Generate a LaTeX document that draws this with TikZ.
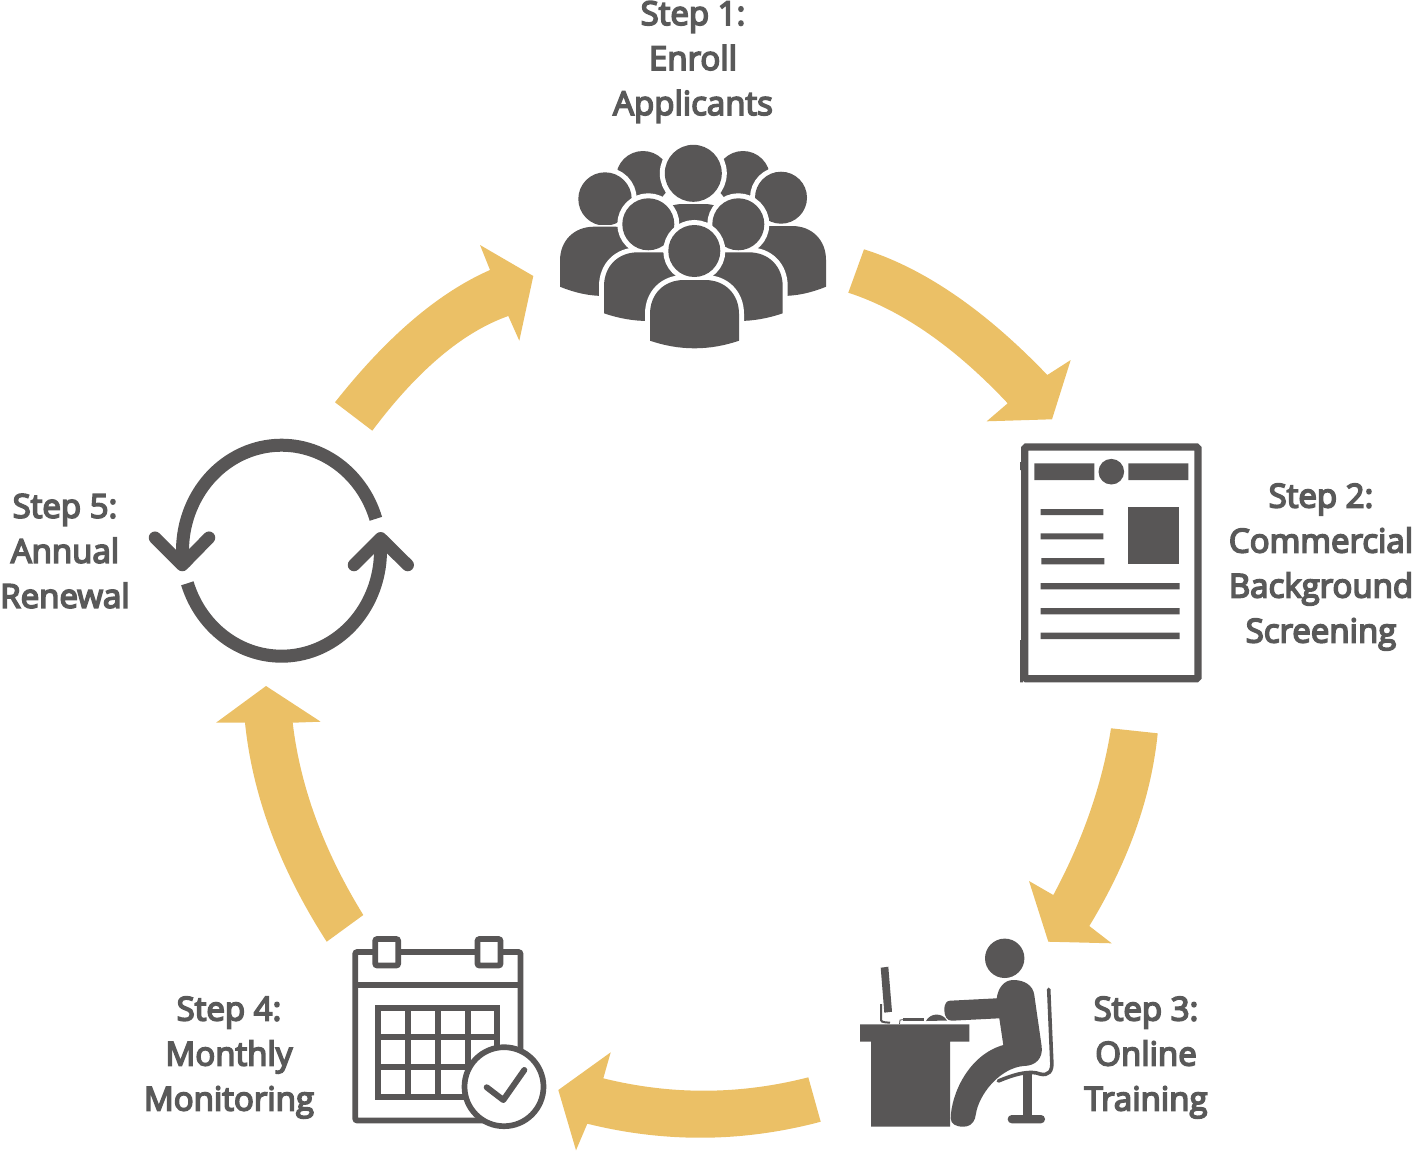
\documentclass[tikz,border=0pt]{standalone}
\usepackage{fontspec}
\setmainfont{Open Sans}
\newfontface\labelface{Open Sans}[FakeBold=5]
\definecolor{icongrey}{HTML}{585656}
\definecolor{textgrey}{HTML}{595959}
\definecolor{arrowgold}{HTML}{EBC066}
\tikzset{
  x=1pt,y=-1pt,
  steplabel/.style={font=\fontsize{33}{45}\selectfont\labelface,text=textgrey,align=center,inner sep=0pt,anchor=center},
  blockarrow/.style={fill=arrowgold},
  solidicon/.style={fill=icongrey},
  thinicon/.style={draw=icongrey,line width=5.7},
  halo/.style={draw=white,fill=white,line width=10},
  thinhalo/.style={draw=white,fill=white,line width=3},
}
\newcommand\crowdhead[3]{%
  \path[halo] (#1,#2) circle[radius=#3];
  \path[solidicon] (#1,#2) circle[radius=#3];}
% head x, head y, head radius, then body left, right, top, side bottom, centre bottom
\newcommand\crowdperson[8]{%
  \def\crowdshape{(#4,#7) -- (#4,#6+34) .. controls (#4,#6+14) and (#4+14,#6) .. (#4+34,#6) -- (#5-34,#6) .. controls (#5-14,#6) and (#5,#6+14) .. (#5,#6+34) -- (#5,#7) .. controls ({#5-(#5-#4)/3},{#7+4/3*(#8-#7)}) and ({#4+(#5-#4)/3},{#7+4/3*(#8-#7)}) .. (#4,#7) -- cycle}%
  \path[halo] \crowdshape;
  \crowdhead{#1}{#2}{#3}
  \path[thinhalo] \crowdshape;
  \path[solidicon] \crowdshape;}
\begin{document}
\begin{tikzpicture}
\useasboundingbox (0,0) rectangle (1412,1151);
% block arrows
\path[blockarrow] (864,249.3) .. controls (924.2,268.3) and (985.3,310.2) .. (1047.3,375) -- (1070.7,360) -- (1052,419.3) -- (986.7,421.3) -- (1007.7,403.3) .. controls (954.6,346.8) and (901.4,310) .. (848.3,292.7) -- cycle;
\path[blockarrow] (1157.7,733.3) .. controls (1151.2,797.5) and (1128.4,861.7) .. (1089.3,926) -- (1111.7,943.3) -- (1048.3,941.7) -- (1029,881) -- (1053.3,895) .. controls (1083.1,839.4) and (1102.3,783.8) .. (1111,728.3) -- cycle;
\path[blockarrow] (820.7,1121.7) .. controls (742.9,1142.4) and (665.1,1143) .. (587.3,1123.7) -- (576,1150.3) -- (558.3,1090) -- (610.7,1052.3) -- (603.3,1078.3) .. controls (671.6,1095.2) and (740,1094.8) .. (808.3,1077.3) -- cycle;
\path[blockarrow] (326.7,941.7) .. controls (279.7,868.7) and (252.5,795.7) .. (245,722.7) -- (216,722.7) -- (266,686) -- (320.7,721.7) -- (292.7,722.7) .. controls (300.2,786.8) and (323.8,850.9) .. (363.3,915) -- cycle;
\path[blockarrow] (335,402.3) .. controls (386.7,336.8) and (438.3,292.7) .. (490,270) -- (480,245) -- (533.3,276) -- (519.3,340.7) -- (508.3,316) .. controls (463,332) and (417.6,370.2) .. (372.3,430.7) -- cycle;
% crowd
\crowdhead{643}{178}{27}
\crowdhead{743}{178}{27}
\crowdperson{693.3}{173.3}{28.5}{649}{738}{204}{272}{280}
\crowdperson{605}{199}{26.7}{560}{649}{226.7}{286.7}{296}
\crowdperson{781}{197.7}{26}{737}{826}{226}{286.7}{296}
\crowdperson{648.3}{224.3}{26}{604}{693}{252.3}{313.3}{321}
\crowdperson{738.3}{224.3}{26}{693.7}{782.7}{252.3}{313.3}{321}
\crowdperson{694.3}{251}{26}{650}{739}{280}{340.7}{348.3}
% document
\draw[icongrey,line width=7.3,rounded corners=1.5] (1024.7,447) rectangle (1198,678.7);
\path[solidicon] (1020,462) rectangle (1023,470) (1020,640) rectangle (1023,682.3);
\path[solidicon] (1034.3,463.3) rectangle (1094.3,480) (1128.3,463.3) rectangle (1188.3,480);
\path[solidicon] (1111.3,471.7) circle[radius=12.8];
\path[solidicon] (1128.3,506.7) rectangle (1179.3,564.3);
\path[solidicon] (1040.7,509) rectangle (1103.3,515) (1040.7,533.3) rectangle (1103.3,539.3) (1041.3,558) rectangle (1104.3,564.3);
\path[solidicon] (1040.7,583) rectangle (1179.7,589.3) (1040.7,608) rectangle (1179.7,614.3) (1040.7,632.7) rectangle (1179.7,639);
% desk worker
\path[solidicon] (1004.7,958.3) circle[radius=19.7];
\path[solidicon] (860,1024.3) rectangle (969.3,1041.7) (871,1041.7) rectangle (950,1126.7);
\path[solidicon] (880.7,967.7) -- (888.3,966.7) -- (892,1011.7) -- (884.3,1012.7) -- cycle;
\draw[icongrey,line width=2] (881,1004) -- (881,1018) .. controls (881,1022) .. (890,1022.7);
\path[solidicon] (903.3,1018.3) rectangle (924,1021);
\draw[icongrey,line width=.8] (899.5,1024) -- (900,1020) -- (904,1019.5);
\path[solidicon] (926,1021) .. controls (930,1013) and (942,1012) .. (947,1020.5) -- cycle;
\path[solidicon] (944.3,1010) .. controls (944.3,1003) and (947,1000.8) .. (950,1000.7) -- (996.7,998.3) .. controls (998,988) and (1004,980) .. (1013.3,980) .. controls (1024,980) and (1033,985) .. (1034.3,995) -- (1041.7,1046.7) .. controls (1043,1058) and (1036,1066) .. (1023.3,1066) .. controls (1002,1068) and (982,1090) .. (976.7,1110) -- (975,1118.3) .. controls (973,1124) and (969,1126.7) .. (963.3,1126.7) .. controls (956,1126.7) and (950.7,1124) .. (950.7,1118.3) .. controls (951,1095) and (968,1055) .. (1003.3,1045) -- (999.3,1018.3) -- (951.7,1020.7) .. controls (947,1020.7) and (944.3,1016) .. (944.3,1010) -- cycle;
\draw[icongrey,line width=3.6,line cap=round,line join=round] (1048.7,989.3) -- (1051.7,1060) .. controls (1053,1072) and (1048,1076) .. (1040,1074) .. controls (1030,1070) and (1015,1074) .. (998.3,1081);
\path[solidicon] (1023.3,1072) rectangle (1032.3,1116);
\path[solidicon,rounded corners=4] (1007.7,1115) rectangle (1045,1123.3);
% calendar
\draw[thinicon,rounded corners=2,fill=white] (355.2,952) rectangle (520.5,1120.5);
\draw[thinicon] (355.2,985.3) -- (520.5,985.3);
\draw[thinicon,rounded corners=2,fill=white] (375.2,939) rectangle (398.2,965.5);
\draw[thinicon,rounded corners=2,fill=white] (477.5,939) rectangle (500.5,965.5);
\draw[thinicon] (378,1008) rectangle (497,1097);
\draw[thinicon] (408,1008) -- (408,1097) (437.7,1008) -- (437.7,1097) (467.7,1008) -- (467.7,1097) (378,1037.3) -- (497,1037.3) (378,1067.3) -- (497,1067.3);
\draw[thinicon,fill=white] (504,1086.7) circle[radius=39.5];
\draw[thinicon,line width=6,line cap=round,line join=round] (486.7,1087.3) -- (503.3,1100) -- (524.3,1070);
% renewal cycle
\draw[icongrey,line width=13] plot[domain=17.6:189,samples=70] ({281.5+99*cos(\x)},{550.7-105.5*sin(\x)});
\draw[icongrey,line width=13] plot[domain=198:365,samples=70] ({281.5+99*cos(\x)},{550.7-105.5*sin(\x)});
\draw[icongrey,line width=12.5,line cap=round,line join=round] (155,537.7) -- (182.3,565) -- (209,537.7);
\draw[icongrey,line width=12.5,line cap=round,line join=round] (354,565) -- (380.7,538.3) -- (407.7,565);
% labels
\node[steplabel] (stepone) at (693,62) {Step 1:\\Enroll\\Applicants};
\node[steplabel] (steptwo) at (1321,567) {Step 2:\\Commercial\\Background\\Screening};
\node[steplabel] (stepthree) at (1146,1057.5) {Step 3:\\Online\\Training};
\node[steplabel] (stepfour) at (229,1057.5) {Step 4:\\Monthly\\Monitoring};
\node[steplabel] (stepfive) at (65,551) {Step 5:\\Annual\\Renewal};
\end{tikzpicture}
\end{document}
